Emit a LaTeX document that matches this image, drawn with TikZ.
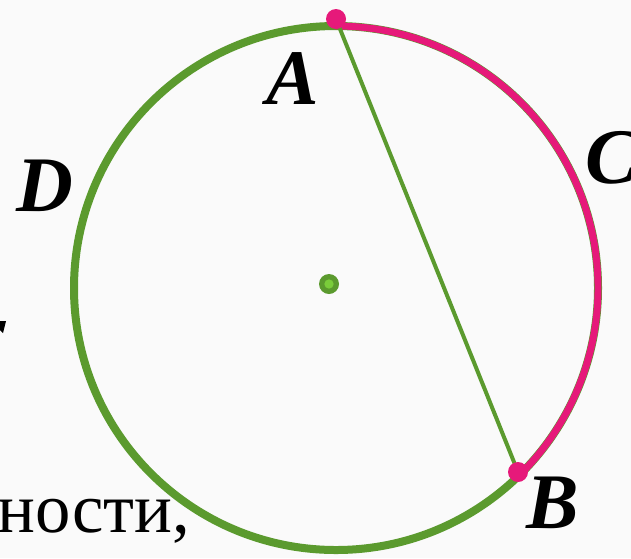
\documentclass[tikz,border=0pt]{standalone}
\usepackage{fontspec}
\setmainfont{Liberation Serif}
\begin{document}
\begin{tikzpicture}[x=0.75pt,y=-0.75pt,
  lbl/.style={inner sep=0pt,font=\fontsize{59}{60}\selectfont\bfseries\itshape},
  dotp/.style={circle,fill=arcpink,inner sep=0pt,minimum size=15pt},
]
\definecolor{arcgreen}{RGB}{91,154,46}
\definecolor{arcpink}{RGB}{230,25,122}
\definecolor{dotlight}{RGB}{122,204,58}
\definecolor{bg}{RGB}{250,250,250}
\fill[bg] (0,0) rectangle (631,558);
\useasboundingbox (0,0) rectangle (631,558);
\coordinate (O) at (336,288);
\coordinate (top) at (336,26);
% circle
\draw[arcgreen,line width=6pt] (O) circle[radius=196.5pt];
\draw[arcpink,line width=5.2pt] (top) arc[start angle=90,end angle=-45,radius=196.5pt];
% points
\coordinate (Apos) at (336,19);
\coordinate (Bpos) at (518,472);
\draw[arcgreen,line width=3pt] (Apos) -- (Bpos);
\node[dotp] (pA) at (Apos) {};
\node[dotp] (pB) at (Bpos) {};
% centre dot
\node[circle,fill=arcgreen,inner sep=0pt,minimum size=15pt] (ctr) at (329,284) {};
\node[circle,fill=dotlight,inner sep=0pt,minimum size=7pt] (ctrin) at (ctr) {};
% labels
\node[lbl] (lA) at (293,79) {A};
\node[lbl] (lB) at (553,503) {B};
\node[lbl] (lC) at (612,158) {C};
\node[lbl] (lD) at (45,186) {D};
% partial text
\node[inner sep=0pt,anchor=base west,font=\fontsize{53}{54}\selectfont] (txt) at (-3,532) {ности,};
\fill[black] (0,321) -- (6,321) -- (3,333) -- (0,330) -- cycle;
\end{tikzpicture}
\end{document}
